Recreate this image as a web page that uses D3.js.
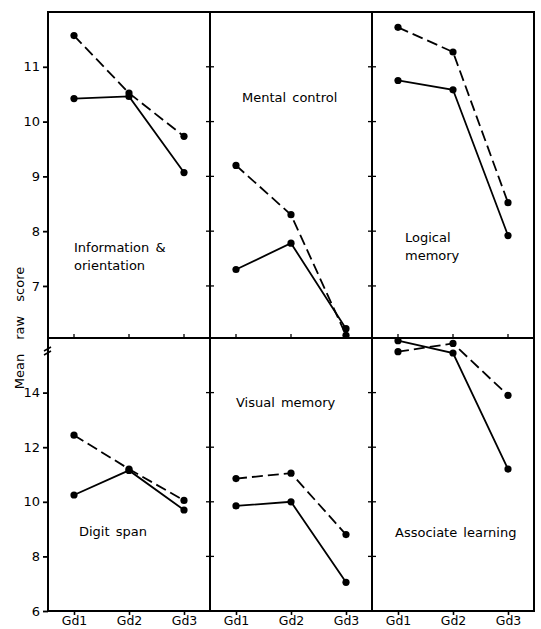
<!DOCTYPE html>
<html>
<head>
<meta charset="utf-8">
<script src="https://cdn.jsdelivr.net/npm/d3@7"></script>
<style>
  body { margin: 0; background: #fff; }
  svg { display: block; font-family: "DejaVu Sans", sans-serif; }
</style>
</head>
<body>
<div id="chart"></div>
<script>
const w = 541;
const h = 629;

// data
const grades = ["Gd1", "Gd2", "Gd3"];
const panelNames = ["Information & orientation", "Mental control", "Logical memory",
                    "Digit span", "Visual memory", "Associate learning"];
const solidValues = [
    [10.42, 10.46, 9.07],
    [7.30, 7.78, 6.22],
    [10.75, 10.58, 7.92],
    [10.25, 11.15, 9.70],
    [9.85, 10.00, 7.05],
    [15.90, 15.45, 11.20]
];
const dashedValues = [
    [11.57, 10.52, 9.73],
    [9.20, 8.30, 6.10],
    [11.72, 11.27, 8.52],
    [12.44, 11.20, 10.05],
    [10.85, 11.05, 8.80],
    [15.50, 15.80, 13.90]
];
const topTicks = [7, 8, 9, 10, 11];
const bottomTicks = [6, 8, 10, 12, 14];

const xLeft = 48, xRight = 534;
const yFrameTop = 12, yMid = 338, yFrameBottom = 611;
const colW = (xRight - xLeft) / 3;

const yTop = d3.scaleLinear().domain([6.05, 12]).range([yMid, yFrameTop]);
const yBottom = d3.scaleLinear().domain([6, 16]).range([yFrameBottom, yMid]);

const svg = d3.select("#chart").append("svg")
    .attr("width", w)
    .attr("height", h);

svg.append("rect").attr("width", w).attr("height", h).attr("fill", "#fff");

function xFor(col) {
    return d3.scalePoint()
        .domain(grades)
        .range([xLeft + col * colW + 26, xLeft + col * colW + 136]);
}

// y axes on the left
const axTop = svg.append("g")
    .attr("transform", "translate(" + xLeft + ",0)")
    .call(d3.axisLeft(yTop).tickValues(topTicks).tickFormat(d3.format("d")).tickSize(5).tickPadding(3));
const axBot = svg.append("g")
    .attr("transform", "translate(" + xLeft + ",0)")
    .call(d3.axisLeft(yBottom).tickValues(bottomTicks).tickFormat(d3.format("d")).tickSize(5).tickPadding(3));
[axTop, axBot].forEach(g => {
    g.select(".domain").remove();
    g.selectAll(".tick line").attr("stroke", "#000").attr("stroke-width", 1.8);
    g.selectAll(".tick text").attr("font-size", 13).attr("fill", "#000")
        .attr("font-family", "DejaVu Sans, sans-serif");
});

// x axis labels along the bottom
for (let c = 0; c < 3; c++) {
    const x = xFor(c);
    const ax = svg.append("g")
        .attr("transform", "translate(0," + yFrameBottom + ")")
        .call(d3.axisBottom(x).tickSize(4).tickPadding(1));
    ax.select(".domain").remove();
    ax.selectAll(".tick line").attr("stroke", "#000").attr("stroke-width", 1.6);
    ax.selectAll(".tick text").attr("font-size", 12.5).attr("fill", "#000")
        .attr("font-family", "DejaVu Sans, sans-serif");

    // small upward ticks on the middle line
    svg.append("g").selectAll("line")
        .data(grades)
        .enter()
        .append("line")
        .attr("x1", d => x(d)).attr("x2", d => x(d))
        .attr("y1", yMid).attr("y2", yMid - 4)
        .attr("stroke", "#000").attr("stroke-width", 1.3);
}

// inner ticks on the panel dividers
[1, 2].forEach(c => {
    const xd = xLeft + c * colW;
    const tk = topTicks.map(t => yTop(t)).concat(bottomTicks.slice(1).map(t => yBottom(t)));
    svg.append("g").selectAll("line")
        .data(tk)
        .enter()
        .append("line")
        .attr("x1", xd - 4).attr("x2", xd + 4)
        .attr("y1", d => d).attr("y2", d => d)
        .attr("stroke", "#000").attr("stroke-width", 1.3);
});

// frame
const frame = svg.append("g").attr("stroke", "#000").attr("stroke-width", 2).attr("fill", "none");
[yFrameTop, yMid, yFrameBottom].forEach(y => {
    frame.append("line").attr("x1", xLeft - 1).attr("x2", xRight + 1).attr("y1", y).attr("y2", y);
});
[0, 1, 2, 3].forEach(c => {
    const xd = xLeft + c * colW;
    frame.append("line").attr("x1", xd).attr("x2", xd).attr("y1", yFrameTop - 1).attr("y2", yFrameBottom + 1);
});

// axis break marks
const brk = svg.append("g").attr("stroke", "#000").attr("stroke-width", 1.5);
brk.append("line").attr("x1", xLeft - 4).attr("y1", 351).attr("x2", xLeft + 3).attr("y2", 347);
brk.append("line").attr("x1", xLeft - 4).attr("y1", 355).attr("x2", xLeft + 3).attr("y2", 351);

// series
const line = d3.line();
panelNames.forEach((name, i) => {
    const row = i < 3 ? 0 : 1;
    const col = i % 3;
    const x = xFor(col);
    const y = row === 0 ? yTop : yBottom;
    const g = svg.append("g");

    [[dashedValues[i], "11,5"], [solidValues[i], null]].forEach(([vals, dash]) => {
        const pts = vals.map((v, j) => [x(grades[j]), y(v)]);
        g.append("path")
            .attr("d", line(pts))
            .attr("fill", "none")
            .attr("stroke", "#000")
            .attr("stroke-width", 1.8)
            .attr("stroke-dasharray", dash);
        g.selectAll(null)
            .data(pts)
            .enter()
            .append("circle")
            .attr("cx", d => d[0])
            .attr("cy", d => d[1])
            .attr("r", 3.6)
            .attr("fill", "#000");
    });
});

// panel titles
const labels = [
    { lines: ["Information &", "orientation"], x: 74, y: 252 },
    { lines: ["Mental control"], x: 242, y: 102 },
    { lines: ["Logical", "memory"], x: 405, y: 242 },
    { lines: ["Digit span"], x: 79, y: 536 },
    { lines: ["Visual memory"], x: 236, y: 407 },
    { lines: ["Associate learning"], x: 395, y: 537 }
];
labels.forEach(l => {
    const t = svg.append("text")
        .attr("x", l.x)
        .attr("y", l.y)
        .attr("font-size", 13)
        .attr("word-spacing", 2)
        .attr("fill", "#000");
    l.lines.forEach((s, k) => {
        t.append("tspan").attr("x", l.x).attr("dy", k === 0 ? 0 : 18).text(s);
    });
});

// y title
svg.append("text")
    .attr("transform", "translate(24,328) rotate(-90)")
    .attr("text-anchor", "middle")
    .attr("font-size", 13)
    .attr("word-spacing", 10)
    .attr("fill", "#000")
    .text("Mean raw score");
</script>
</body>
</html>
